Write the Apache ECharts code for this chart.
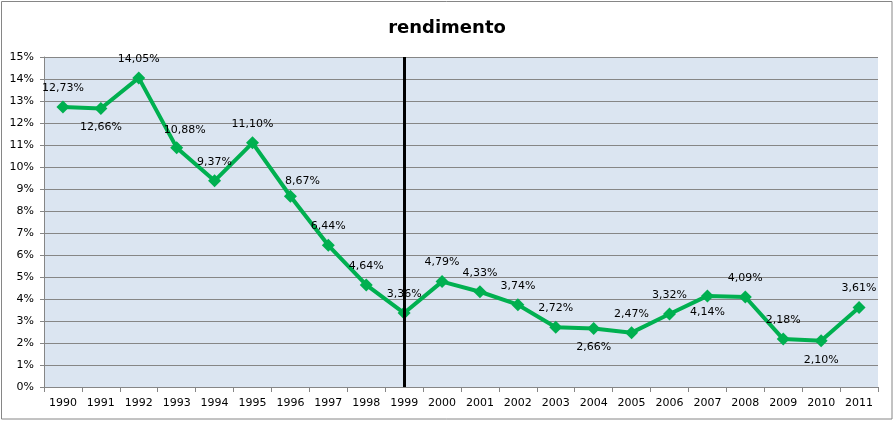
<!DOCTYPE html>
<html><head><meta charset="utf-8">
<script src="https://cdn.jsdelivr.net/npm/echarts@6/dist/echarts.min.js"></script>
<style>html,body{margin:0;padding:0;background:#fff}#c{width:894px;height:421px}</style>
</head><body><div id="c"></div>
<script>
const years = ['1990','1991','1992','1993','1994','1995','1996','1997','1998','1999','2000','2001','2002','2003','2004','2005','2006','2007','2008','2009','2010','2011'];
const rendimento = [12.73,12.66,14.05,10.88,9.37,11.10,8.67,6.44,4.64,3.36,4.79,4.33,3.74,2.72,2.66,2.47,3.32,4.14,4.09,2.18,2.10,3.61];
const yTicks = [0,1,2,3,4,5,6,7,8,9,10,11,12,13,14,15];
const labelsBelow = ['1991','2004','2007','2010'];
const labelShift = { '1993': [8, 2], '1996': [12, 4], '2007': [0, -3] };
const markYear = '1999';

const chart = echarts.init(document.getElementById('c'));
const fmt = v => v.toFixed(2).replace('.', ',') + '%';
chart.setOption({
  animation: false,
  title: { text: 'rendimento', left: 'center', top: 14,
    textStyle: { fontFamily: 'DejaVu Sans', fontWeight: 'bold', fontSize: 18, color: '#000' } },
  graphic: [{ type: 'rect', shape: { x: 1.5, y: 1.5, width: 890.5, height: 417.5 },
    style: { fill: 'none', stroke: '#868686', lineWidth: 1 }, z: 100 }],
  grid: { left: 44, right: 16, top: 57, bottom: 34, show: true, backgroundColor: '#dbe5f1', borderWidth: 0 },
  xAxis: { type: 'category', data: years, boundaryGap: true,
    axisLine: { lineStyle: { color: '#868686', width: 1 } },
    axisTick: { show: true, length: 5, lineStyle: { color: '#868686' } },
    axisLabel: { color: '#000', fontFamily: 'DejaVu Sans', fontSize: 11, margin: 11, interval: 0 },
    splitLine: { show: false } },
  yAxis: { type: 'value', min: yTicks[0], max: yTicks[yTicks.length - 1], interval: 1,
    axisLine: { show: true, lineStyle: { color: '#868686' } },
    axisTick: { show: true, length: 4, lineStyle: { color: '#868686' } },
    axisLabel: { color: '#000', fontFamily: 'DejaVu Sans', fontSize: 11, margin: 10, formatter: v => v + '%' },
    splitLine: { show: true, lineStyle: { color: '#868686', width: 1 } } },
  series: [{
    type: 'line', name: 'rendimento',
    data: rendimento.map((v, i) => ({ value: v,
      label: { position: labelsBelow.includes(years[i]) ? 'bottom' : 'top',
               offset: labelShift[years[i]] || [0, 0] } })),
    lineStyle: { color: '#00b050', width: 4 },
    itemStyle: { color: '#00b050' },
    symbol: 'diamond', symbolSize: 13,
    label: { show: true, color: '#000', fontFamily: 'DejaVu Sans', fontSize: 11, distance: 7,
      formatter: p => fmt(p.value) },
    markLine: { silent: true, symbol: 'none', label: { show: false },
      lineStyle: { color: '#000', width: 3, type: 'solid' },
      data: [{ xAxis: markYear }] }
  }]
});
</script></body></html>
